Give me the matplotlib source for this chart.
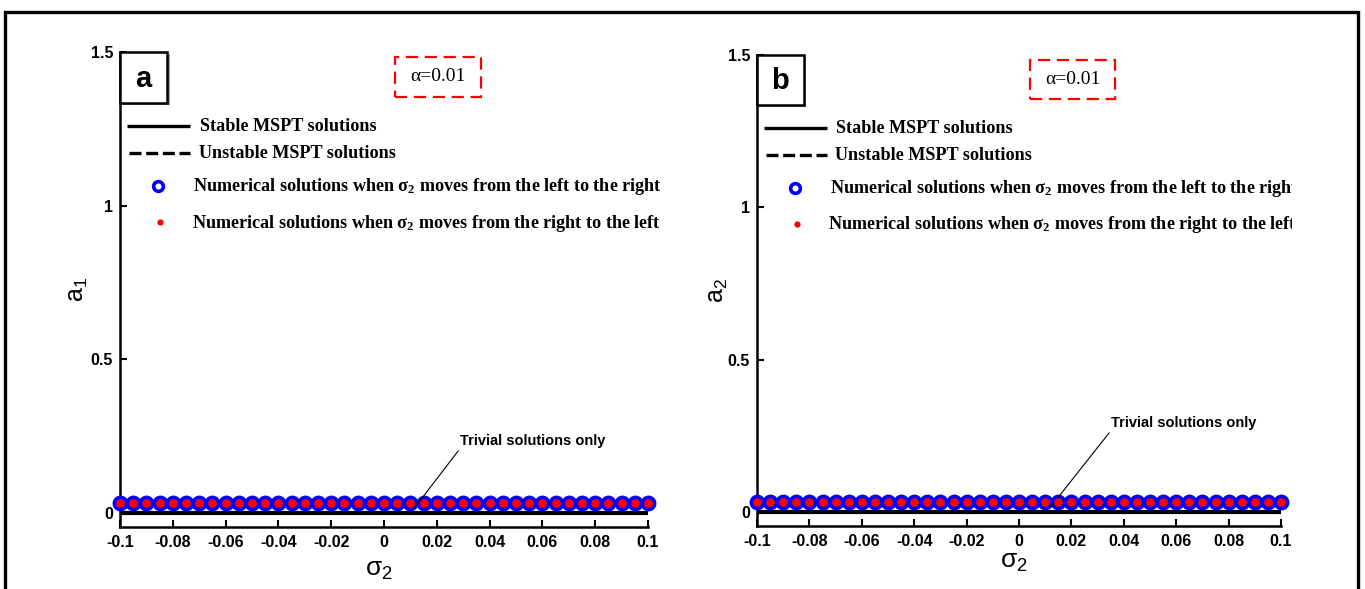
import matplotlib.pyplot as plt
from matplotlib.patches import Rectangle
from matplotlib.transforms import Bbox, TransformedBbox

plt.rcParams['font.family'] = ['Liberation Sans', 'DejaVu Sans']
plt.rcParams['mathtext.fontset'] = 'stix'

# sampled detuning values for the numerical continuation
sigma2 = [-0.1, -0.095, -0.09, -0.085, -0.08, -0.075, -0.07, -0.065, -0.06, -0.055,
          -0.05, -0.045, -0.04, -0.035, -0.03, -0.025, -0.02, -0.015, -0.01, -0.005,
          0.0, 0.005, 0.01, 0.015, 0.02, 0.025, 0.03, 0.035, 0.04, 0.045,
          0.05, 0.055, 0.06, 0.065, 0.07, 0.075, 0.08, 0.085, 0.09, 0.095, 0.1]
# trivial amplitudes (plotted just above the zero branch)
a1_forward = [0.033] * len(sigma2)
a1_backward = [0.033] * len(sigma2)
a2_forward = [0.033] * len(sigma2)
a2_backward = [0.033] * len(sigma2)
# stable MSPT branch (trivial)
stable_sigma = [-0.1, 0.1]
stable_amp = [0.0, 0.0]

xticks = [-0.1, -0.08, -0.06, -0.04, -0.02, 0, 0.02, 0.04, 0.06, 0.08, 0.1]
xticklabels = ['-0.1', '-0.08', '-0.06', '-0.04', '-0.02', '0', '0.02', '0.04', '0.06', '0.08', '0.1']
yticks = [0, 0.5, 1, 1.5]
yticklabels = ['0', '0.5', '1', '1.5']

leg_labels = ['Stable MSPT solutions',
              'Unstable MSPT solutions',
              r'Numerical solutions when $\mathregular{\sigma_2}$ moves from the left to the right',
              r'Numerical solutions when $\mathregular{\sigma_2}$ moves from the right to the left']

W, H = 1365, 589
fig = plt.figure(figsize=(W / 100, H / 100), dpi=100)

ax1 = fig.add_axes([120 / W, 1 - 527 / H, 528 / W, 475 / H])
ax2 = fig.add_axes([757 / W, 1 - 526 / H, 524 / W, 471 / H])


def draw_panel(ax, forward, backward, letter, ylab, ylab_x, xlab_y, note_xy, arrow_xy, clip_x=None):
    ax.plot(stable_sigma, stable_amp, color='black', lw=3, solid_capstyle='butt', zorder=2)
    ax.plot(sigma2, forward, 'o', ms=8, mfc='none', mec='blue', mew=3.4, zorder=3, clip_on=False)
    ax.plot(sigma2, backward, 'o', ms=6.3, mfc='red', mec='none', zorder=4, clip_on=False)

    ax.set_xlim(-0.1, 0.1)
    ax.set_ylim(-0.046, 1.5)
    ax.set_xticks(xticks)
    ax.set_xticklabels(xticklabels)
    ax.set_yticks(yticks)
    ax.set_yticklabels(yticklabels)
    for lab in ax.get_xticklabels() + ax.get_yticklabels():
        lab.set_fontweight('bold')
    ax.tick_params(direction='in', length=5, width=1.5, labelsize=11.5)
    ax.tick_params(axis='x', pad=6)
    ax.tick_params(axis='y', pad=5)
    for side in ['top', 'right']:
        ax.spines[side].set_visible(False)
    for side in ['left', 'bottom']:
        ax.spines[side].set_linewidth(1.8)

    ax.text(ylab_x, 0.5, ylab, transform=ax.transAxes, rotation=90,
            ha='center', va='center', fontsize=18)
    ax.text(0.49, xlab_y, r'$\mathregular{\sigma_2}$', transform=ax.transAxes,
            ha='center', va='center', fontsize=19)

    # panel letter box
    ax.add_patch(Rectangle((0.004, 0.889), 0.09, 0.107, transform=ax.transAxes,
                           fc='#999999', ec='none', clip_on=False, zorder=5))
    ax.add_patch(Rectangle((0, 0.893), 0.089, 0.107, transform=ax.transAxes,
                           fc='white', ec='black', lw=1.8, clip_on=False, zorder=6))
    ax.text(0.0445, 0.944, letter, transform=ax.transAxes, ha='center', va='center',
            fontsize=21, fontweight='bold', zorder=7)

    # parameter box
    ax.add_patch(Rectangle((0.521, 0.906), 0.163, 0.084, transform=ax.transAxes,
                           fill=False, ec='red', lw=1.6, ls=(0, (5.5, 3)), clip_on=False))
    ax.text(0.6025, 0.948, 'α=0.01', transform=ax.transAxes, ha='center', va='center',
            fontsize=14, family='Liberation Serif')

    # hand-placed legend
    ax.plot([0.014, 0.133], [0.844, 0.844], transform=ax.transAxes, color='black',
            lw=2.4, solid_capstyle='butt', clip_on=False)
    ax.plot([0.017, 0.133], [0.787, 0.787], transform=ax.transAxes, color='black',
            lw=2.4, ls=(0, (3.6, 1.4)), clip_on=False)
    ax.plot([0.072], [0.718], 'o', transform=ax.transAxes, ms=7, mfc='white', mec='blue',
            mew=2.6, clip_on=False)
    ax.plot([0.076], [0.642], 'o', transform=ax.transAxes, ms=4.5, mfc='red', mec='none',
            clip_on=False)
    texts = []
    for x, y, s in zip([0.151, 0.149, 0.139, 0.136], [0.844, 0.787, 0.716, 0.640], leg_labels):
        t = ax.text(x, y, s, transform=ax.transAxes, ha='left', va='center',
                    fontsize=13.1, fontweight='bold', family='Liberation Serif')
        texts.append(t)
    if clip_x is not None:
        box = TransformedBbox(Bbox([[0, 0], [clip_x / W, 1]]), fig.transFigure)
        for t in texts:
            t.set_clip_path(None)
            t.set_clip_box(box)
            t.set_clip_on(True)

    ax.annotate('Trivial solutions only', xy=arrow_xy, xytext=note_xy,
                ha='center', va='center', fontsize=10.5, fontweight='bold',
                arrowprops=dict(arrowstyle='-', color='black', lw=0.8,
                                relpos=(0.0, 0.0), shrinkA=0, shrinkB=0))


draw_panel(ax1, a1_forward, a1_backward, 'a', r'$\mathregular{a_1}$', -0.08, -0.09,
           (0.0565, 0.234), (0.011, 0.01))
draw_panel(ax2, a2_forward, a2_backward, 'b', r'$\mathregular{a_2}$', -0.075, -0.077,
           (0.063, 0.292), (0.012, 0.016), clip_x=1292)

# outer frame
fig.add_artist(Rectangle((5 / W, -0.05), 1353 / W, 1.05 - 12 / H, transform=fig.transFigure,
                         fill=False, ec='black', lw=2.4, clip_on=False))

fig.savefig('out.png', dpi=100)
